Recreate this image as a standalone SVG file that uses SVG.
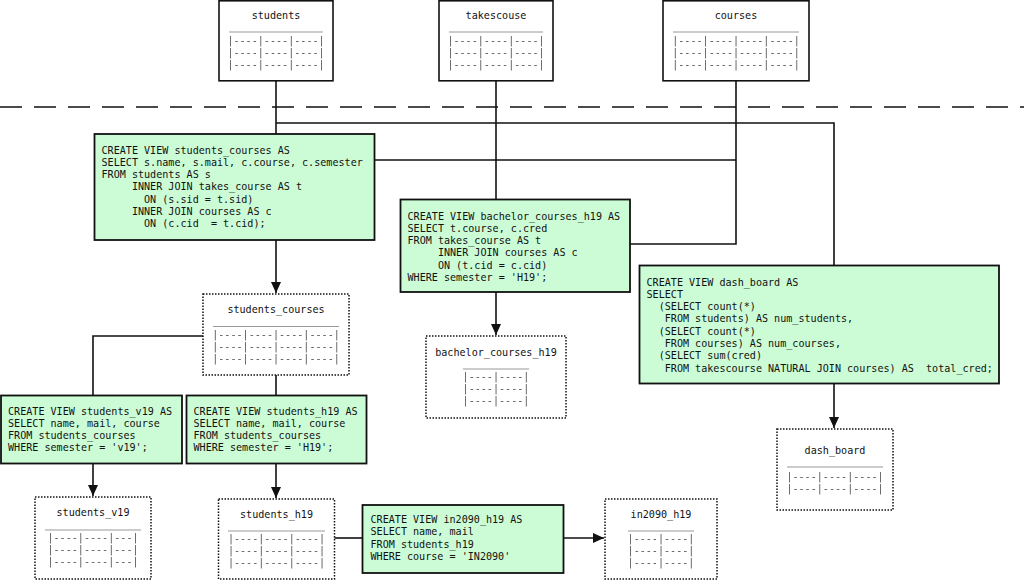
<svg xmlns="http://www.w3.org/2000/svg" width="1024" height="582" viewBox="0 0 1024 582">
<defs>
<style>
text{font-family:"DejaVu Sans Mono","Liberation Mono",monospace;font-size:10.1px;fill:#111;}
.t{text-anchor:middle;}
.r{text-anchor:middle;fill:#555;filter:url(#gray);}
.sep{stroke:#999;stroke-width:1;}
.tbl{fill:#fff;stroke:#111;stroke-width:1.6;}
.vtbl{fill:#fff;stroke:#111;stroke-width:1.5;stroke-dasharray:1.5 1.5;}
.view{fill:#ccfcd6;stroke:#111;stroke-width:1.8;}
.c{fill:none;stroke:#111;stroke-width:1.6;}
.a{marker-end:url(#arr);}
</style>
<filter id="gray" x="-5%" y="-50%" width="110%" height="200%">
<feColorMatrix type="saturate" values="0"/>
</filter>
<marker id="arr" markerUnits="userSpaceOnUse" markerWidth="12" markerHeight="12" viewBox="0 0 12 12" refX="11" refY="6" orient="auto">
<path d="M0,1 L11,6 L0,11 Z" fill="#111"/>
</marker>
</defs>
<rect width="1024" height="582" fill="#fff"/>
<line x1="0" y1="107" x2="1024" y2="107" stroke="#111" stroke-width="1.5" stroke-dasharray="22 12"/>
<g id="connectors">
<path class="c" d="M276,81 V134"/>
<path class="c" d="M276,123 H834 V265"/>
<path class="c" d="M496,81 V199"/>
<path class="c" d="M736,81 V244 H630"/>
<path class="c" d="M374,160 H736"/>
<path class="c a" d="M276,240 V293"/>
<path class="c" d="M203,336 H93 V395"/>
<path class="c" d="M276,375 V395"/>
<path class="c a" d="M93,463 V496"/>
<path class="c a" d="M276,463 V498"/>
<path class="c a" d="M496,292 V335"/>
<path class="c a" d="M834,384 V428"/>
<path class="c" d="M334,538 H362"/>
<path class="c a" d="M564,538 H604"/>
</g>
<g id="students">
<rect class="tbl" x="219" y="0.8" width="114" height="80"/>
<text class="t" x="276" y="19">students</text>
<line class="sep" x1="229" y1="32" x2="323" y2="32"/>
<text class="r" x="276" y="44">|----|----|----|</text>
<text class="r" x="276" y="56">|----|----|----|</text>
<text class="r" x="276" y="68">|----|----|----|</text>
</g>
<g id="takescouse">
<rect class="tbl" x="439" y="0.8" width="114" height="80"/>
<text class="t" x="496" y="19">takescouse</text>
<line class="sep" x1="449" y1="32" x2="543" y2="32"/>
<text class="r" x="496" y="44">|----|----|----|</text>
<text class="r" x="496" y="56">|----|----|----|</text>
<text class="r" x="496" y="68">|----|----|----|</text>
</g>
<g id="courses">
<rect class="tbl" x="663" y="0.8" width="146" height="80"/>
<text class="t" x="736" y="19">courses</text>
<line class="sep" x1="673" y1="32" x2="799" y2="32"/>
<text class="r" x="736" y="44">|----|----|----|----|</text>
<text class="r" x="736" y="56">|----|----|----|----|</text>
<text class="r" x="736" y="68">|----|----|----|----|</text>
</g>
<g id="view_students_courses">
<rect class="view" x="94.5" y="134" width="280" height="106"/>
<text x="101.5" y="153.5" xml:space="preserve">CREATE VIEW students_courses AS</text>
<text x="101.5" y="165.8" xml:space="preserve">SELECT s.name, s.mail, c.course, c.semester</text>
<text x="101.5" y="178.1" xml:space="preserve">FROM students AS s</text>
<text x="101.5" y="190.4" xml:space="preserve">     INNER JOIN takes_course AS t</text>
<text x="101.5" y="202.7" xml:space="preserve">       ON (s.sid = t.sid)</text>
<text x="101.5" y="215" xml:space="preserve">     INNER JOIN courses AS c</text>
<text x="101.5" y="227.3" xml:space="preserve">       ON (c.cid  = t.cid);</text>
</g>
<g id="view_bachelor_courses_h19">
<rect class="view" x="400.5" y="199.5" width="229.5" height="92.5"/>
<text x="407.5" y="219.5" xml:space="preserve">CREATE VIEW bachelor_courses_h19 AS</text>
<text x="407.5" y="231.8" xml:space="preserve">SELECT t.course, c.cred</text>
<text x="407.5" y="244.1" xml:space="preserve">FROM takes_course AS t</text>
<text x="407.5" y="256.4" xml:space="preserve">     INNER JOIN courses AS c</text>
<text x="407.5" y="268.7" xml:space="preserve">     ON (t.cid = c.cid)</text>
<text x="407.5" y="281" xml:space="preserve">WHERE semester = 'H19';</text>
</g>
<g id="view_dash_board">
<rect class="view" x="639.5" y="265.5" width="359.5" height="118"/>
<text x="646.5" y="285.5" xml:space="preserve">CREATE VIEW dash_board AS</text>
<text x="646.5" y="297.8" xml:space="preserve">SELECT</text>
<text x="646.5" y="310.1" xml:space="preserve">  (SELECT count(*)</text>
<text x="646.5" y="322.4" xml:space="preserve">   FROM students) AS num_students,</text>
<text x="646.5" y="334.7" xml:space="preserve">  (SELECT count(*)</text>
<text x="646.5" y="347" xml:space="preserve">   FROM courses) AS num_courses,</text>
<text x="646.5" y="359.3" xml:space="preserve">  (SELECT sum(cred)</text>
<text x="646.5" y="371.6" xml:space="preserve">   FROM takescourse NATURAL JOIN courses) AS  total_cred;</text>
</g>
<g id="students_courses">
<rect class="vtbl" x="203" y="294" width="146" height="81"/>
<text class="t" x="276" y="313">students_courses</text>
<line class="sep" x1="213" y1="326.5" x2="339" y2="326.5"/>
<text class="r" x="276" y="338">|----|----|----|----|</text>
<text class="r" x="276" y="350">|----|----|----|----|</text>
<text class="r" x="276" y="362">|----|----|----|----|</text>
</g>
<g id="bachelor_courses_h19">
<rect class="vtbl" x="426" y="336" width="140" height="82"/>
<text class="t" x="496" y="356">bachelor_courses_h19</text>
<line class="sep" x1="463" y1="369" x2="529" y2="369"/>
<text class="r" x="496" y="380">|----|----|</text>
<text class="r" x="496" y="392">|----|----|</text>
<text class="r" x="496" y="404">|----|----|</text>
</g>
<g id="dash_board">
<rect class="vtbl" x="777" y="429" width="116" height="81"/>
<text class="t" x="835" y="453.5">dash_board</text>
<line class="sep" x1="787" y1="467" x2="883" y2="467"/>
<text class="r" x="835" y="480">|----|----|----|</text>
<text class="r" x="835" y="492">|----|----|----|</text>
</g>
<g id="view_students_v19">
<rect class="view" x="1" y="395.5" width="181" height="68"/>
<text x="8" y="414.5" xml:space="preserve">CREATE VIEW students_v19 AS</text>
<text x="8" y="426.8" xml:space="preserve">SELECT name, mail, course</text>
<text x="8" y="439.1" xml:space="preserve">FROM students_courses</text>
<text x="8" y="451.4" xml:space="preserve">WHERE semester = 'v19';</text>
</g>
<g id="view_students_h19">
<rect class="view" x="186.5" y="395.5" width="180" height="68"/>
<text x="193.5" y="414.5" xml:space="preserve">CREATE VIEW students_h19 AS</text>
<text x="193.5" y="426.8" xml:space="preserve">SELECT name, mail, course</text>
<text x="193.5" y="439.1" xml:space="preserve">FROM students_courses</text>
<text x="193.5" y="451.4" xml:space="preserve">WHERE semester = 'H19';</text>
</g>
<g id="students_v19">
<rect class="vtbl" x="35" y="497" width="116" height="82"/>
<text class="t" x="93" y="516">students_v19</text>
<line class="sep" x1="45" y1="530" x2="141" y2="530"/>
<text class="r" x="93" y="541">|----|----|---|</text>
<text class="r" x="93" y="553">|----|----|---|</text>
<text class="r" x="93" y="565">|----|----|---|</text>
</g>
<g id="students_h19">
<rect class="vtbl" x="218.5" y="499" width="116" height="80"/>
<text class="t" x="276.5" y="518">students_h19</text>
<line class="sep" x1="228" y1="531" x2="325" y2="531"/>
<text class="r" x="276.5" y="542">|----|----|----|</text>
<text class="r" x="276.5" y="554">|----|----|----|</text>
<text class="r" x="276.5" y="566">|----|----|----|</text>
</g>
<g id="view_in2090_h19">
<rect class="view" x="362.5" y="505" width="201" height="68"/>
<text x="370.5" y="523" xml:space="preserve">CREATE VIEW in2090_h19 AS</text>
<text x="370.5" y="535.3" xml:space="preserve">SELECT name, mail</text>
<text x="370.5" y="547.6" xml:space="preserve">FROM students_h19</text>
<text x="370.5" y="559.9" xml:space="preserve">WHERE course = 'IN2090'</text>
</g>
<g id="in2090_h19">
<rect class="vtbl" x="605" y="499" width="112" height="80"/>
<text class="t" x="661" y="518">in2090_h19</text>
<line class="sep" x1="628" y1="531" x2="694" y2="531"/>
<text class="r" x="661" y="542">|----|----|</text>
<text class="r" x="661" y="554">|----|----|</text>
<text class="r" x="661" y="566">|----|----|</text>
</g>
</svg>
